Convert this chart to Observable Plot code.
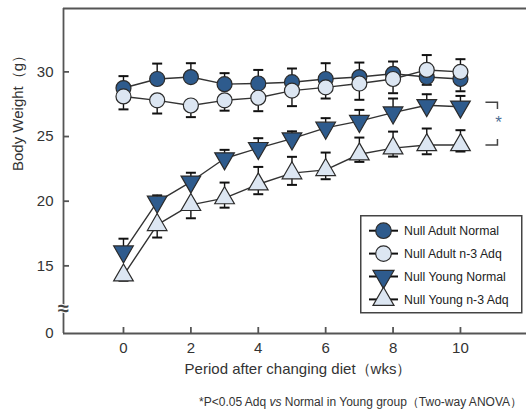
<!DOCTYPE html>
<html><head><meta charset="utf-8">
<script src="https://cdn.jsdelivr.net/npm/d3@7"></script>
<script src="https://cdn.jsdelivr.net/npm/@observablehq/plot@0.6"></script>
<style>
body{margin:0;background:#fff;font-family:"Liberation Sans",Arial,sans-serif;}
#wrap{position:relative;width:526px;height:412px;overflow:hidden;}
#legend{position:absolute;left:360px;top:215px;}
#note{position:absolute;right:4px;top:394px;font-size:12px;line-height:16px;color:#333;white-space:nowrap;}
</style></head><body><div id="wrap"></div>
<script>
// ---- data ----
const weeks = [0, 1, 2, 3, 4, 5, 6, 7, 8, 9, 10];
const seriesNames = ["Null Adult Normal", "Null Adult n-3 Adq", "Null Young Normal", "Null Young n-3 Adq"];

const adultNormalMean  = [28.75, 29.45, 29.6, 29.05, 29.1, 29.2, 29.45, 29.6, 29.85, 29.6, 29.45];
const adultNormalUpper = [29.67, 30.64, 30.67, 29.9, 30.15, 30.26, 30.67, 30.72, 30.8, 31.3, 30.98];
const adultNormalLower = [null, null, null, null, null, null, null, null, null, null, null];

const adultAdqMean  = [28.1, 27.8, 27.4, 27.8, 28.0, 28.55, 28.8, 29.1, 29.45, 30.15, 30.0];
const adultAdqUpper = [null, null, null, null, null, null, null, null, null, null, null];
const adultAdqLower = [27.1, 26.78, 26.5, 27.0, 26.96, 27.35, 27.94, 27.84, 28.35, 29.0, 28.5];

const youngNormalMean  = [16.1, 19.95, 21.5, 23.3, 24.1, 24.84, 25.67, 26.19, 26.85, 27.42, 27.3];
const youngNormalUpper = [17.1, 20.45, 22.2, 23.97, 24.87, 25.4, 26.42, 27.06, 27.94, 28.27, 28.14];
const youngNormalLower = [null, null, null, null, null, null, null, null, null, null, null];

const youngAdqMean  = [14.27, 18.17, 19.72, 20.24, 21.31, 22.17, 22.42, 23.63, 24.1, 24.35, 24.35];
const youngAdqUpper = [null, null, null, 21.44, 22.65, 23.43, 23.76, 24.92, 25.38, 25.62, 25.49];
const youngAdqLower = [13.85, 17.19, 18.68, 19.5, 20.54, 21.26, 21.7, 23.04, 23.45, 23.63, 23.84];

const xTicks = [0, 2, 4, 6, 8, 10];
const yTickLabels = [0, 15, 20, 25, 30];
const yTickMarks = [15, 20, 25, 30];
const xDomain = [-1.78, 11.96];
const yMax = 34.9;        // top of the frame
const yBreak = 11.7;      // where the axis is broken
const breakSquash = 0.165; // compression of the 0..break segment
const xTitle = "Period after changing diet（wks）";
const yTitle = "Body Weight（g）";
const sigMark = "*";
const breakMark = "≈";
const notePre = "*P<0.05 Adq ", noteVs = "vs", notePost = " Normal in Young group（Two-way ANOVA）";

// broken-axis mapping: values below the break are compressed
const yPos = v => v >= yBreak ? v : yBreak - (yBreak - v) * breakSquash;
const yInv = p => p >= yBreak ? p : yBreak - (yBreak - p) / breakSquash;

// ---- styles ----
const dark = "#2e5b8d", light = "#dce6f2", edge = "#2b2b2b";
const triDown = {draw(ctx, size) {
  const y = Math.sqrt(size / (Math.sqrt(3) * 3));
  ctx.moveTo(0, 2 * y); ctx.lineTo(-Math.sqrt(3) * y, -y); ctx.lineTo(Math.sqrt(3) * y, -y); ctx.closePath();
}};
const triUp = {draw(ctx, size) {
  const y = Math.sqrt(size / (Math.sqrt(3) * 3));
  ctx.moveTo(0, -2 * y); ctx.lineTo(Math.sqrt(3) * y, y); ctx.lineTo(-Math.sqrt(3) * y, y); ctx.closePath();
}};
const cap = {draw(ctx, size) { const w = Math.sqrt(size / Math.PI); ctx.moveTo(-w, 0); ctx.lineTo(w, 0); }};
const bracketTop = {draw(ctx, size) { const w = Math.sqrt(size / Math.PI); ctx.moveTo(-w, 0); ctx.lineTo(w, 0); ctx.lineTo(w, w * 1.1); }};
const bracketBottom = {draw(ctx, size) { const w = Math.sqrt(size / Math.PI); ctx.moveTo(-w, 0); ctx.lineTo(w, 0); ctx.lineTo(w, -w * 1.0); }};

const series = [
  {name: seriesNames[0], mean: adultNormalMean, upper: adultNormalUpper, lower: adultNormalLower, fill: dark, symbol: "circle", r: 7.5},
  {name: seriesNames[1], mean: adultAdqMean, upper: adultAdqUpper, lower: adultAdqLower, fill: light, symbol: "circle", r: 7.5},
  {name: seriesNames[2], mean: youngNormalMean, upper: youngNormalUpper, lower: youngNormalLower, fill: dark, symbol: triDown, r: 7.3},
  {name: seriesNames[3], mean: youngAdqMean, upper: youngAdqUpper, lower: youngAdqLower, fill: light, symbol: triUp, r: 7.3}
];

const points = series.flatMap(s => weeks.map((w, i) => ({series: s.name, week: w, mean: s.mean[i]})));
const bars = series.flatMap(s => weeks.flatMap((w, i) => {
  const out = [];
  if (s.upper[i] != null) out.push({week: w, from: s.mean[i], to: s.upper[i]});
  if (s.lower[i] != null) out.push({week: w, from: s.mean[i], to: s.lower[i]});
  return out;
}));

const last = weeks.length - 1;
const bracketRows = [
  {week: weeks[last], y: youngNormalMean[last], part: "top"},
  {week: weeks[last], y: youngAdqMean[last], part: "bottom"}
];

const W = 526, H = 390;
const chart = Plot.plot({
  width: W, height: H,
  marginLeft: 63, marginRight: 0, marginTop: 8, marginBottom: H - 333,
  style: {fontFamily: "'Liberation Sans', Arial, sans-serif", fontSize: "15px", color: "#333", background: "white", overflow: "visible"},
  x: {domain: xDomain, label: null},
  y: {domain: [yPos(0), yMax], label: null},
  marks: [
    // frame lines
    Plot.ruleY([yMax], {stroke: "#555", strokeWidth: 2}),
    Plot.ruleX([xDomain[0]], {stroke: "#555", strokeWidth: 1.8}),
    Plot.ruleY([yPos(0)], {stroke: "#555", strokeWidth: 1.8}),
    // axes
    Plot.axisY({ticks: yTickLabels.map(yPos), tickSize: 0, tickPadding: 10, fontSize: 15, label: null,
      tickFormat: d => String(Math.round(yInv(d)))}),
    Plot.axisY({ticks: yTickMarks.map(yPos), tickSize: 6, dx: 6, tickFormat: () => "", stroke: "#555", strokeWidth: 1.8, label: null}),
    Plot.axisX({ticks: xTicks, tickSize: 0, tickPadding: 9, fontSize: 15, label: null}),
    Plot.axisX({ticks: xTicks, tickSize: 6, dy: -6, tickFormat: () => "", stroke: "#555", strokeWidth: 1.8, label: null}),
    // axis break
    Plot.text([breakMark], {x: xDomain[0], y: yBreak, text: d => d, fontSize: 20, fontWeight: "bold", fill: "#444", stroke: "white", strokeWidth: 2, paintOrder: "stroke"}),
    // titles
    Plot.text([yTitle], {frameAnchor: "left", text: d => d, rotate: -90, dx: -45, fontSize: 15, fill: "#333"}),
    Plot.text([xTitle], {frameAnchor: "bottom", text: d => d, dy: 40, dx: 3, fontSize: 15, fill: "#333"}),
    // error bars
    Plot.ruleX(bars, {x: "week", y1: d => yPos(d.from), y2: d => yPos(d.to), stroke: "#111", strokeWidth: 1.4}),
    Plot.dot(bars, {x: "week", y: d => yPos(d.to), symbol: cap, r: 5, stroke: "#111", strokeWidth: 2, fill: "none"}),
    // connecting lines
    Plot.line(points, {x: "week", y: d => yPos(d.mean), z: "series", stroke: "#333", strokeWidth: 1.4}),
    // markers
    ...series.map(s => Plot.dot(points.filter(d => d.series === s.name), {
      x: "week", y: d => yPos(d.mean), symbol: s.symbol, r: s.r, fill: s.fill, stroke: edge, strokeWidth: 1.2
    })),
    // significance bracket
    Plot.dot(bracketRows.filter(d => d.part === "top"), {x: "week", y: d => yPos(d.y), symbol: bracketTop, r: 6, dx: 31, dy: -4.5, stroke: "#444", strokeWidth: 1.5, fill: "none"}),
    Plot.dot(bracketRows.filter(d => d.part === "bottom"), {x: "week", y: d => yPos(d.y), symbol: bracketBottom, r: 6, dx: 31, stroke: "#444", strokeWidth: 1.5, fill: "none"}),
    Plot.text([sigMark], {x: weeks[last], y: yPos((youngNormalMean[last] + youngAdqMean[last]) / 2), text: d => d, dx: 38, dy: -3, fontSize: 17, fill: "#4f6f96"})
  ]
});

const wrap = document.getElementById("wrap");
wrap.appendChild(chart);

// legend (overlay)
const lg = d3.create("svg").attr("id", "legend").attr("width", 163).attr("height", 99);
lg.append("rect").attr("x", 0.75).attr("y", 0.75).attr("width", 161).attr("height", 97)
  .attr("fill", "white").attr("stroke", "#444").attr("stroke-width", 1.5);
series.forEach((s, i) => {
  const cy = 15.7 + i * 22.9;
  const g = lg.append("g").attr("transform", `translate(0,${cy})`);
  g.append("line").attr("x1", 9).attr("x2", 38).attr("stroke", "#111").attr("stroke-width", 2);
  const type = s.symbol === "circle" ? d3.symbolCircle : s.symbol;
  g.append("path").attr("transform", "translate(23.5,0)")
    .attr("d", d3.symbol(type, Math.PI * 7.8 * 7.8)())
    .attr("fill", s.fill).attr("stroke", edge).attr("stroke-width", 1.2);
  g.append("text").attr("x", 44).attr("dy", "0.35em").attr("font-size", 12.3)
    .attr("font-family", "'Liberation Sans', Arial, sans-serif").attr("fill", "#222").text(s.name);
});
wrap.appendChild(lg.node());

// footnote
const note = document.createElement("div");
note.id = "note";
note.appendChild(document.createTextNode(notePre));
const it = document.createElement("i"); it.textContent = noteVs; note.appendChild(it);
note.appendChild(document.createTextNode(notePost));
wrap.appendChild(note);
</script></body></html>
